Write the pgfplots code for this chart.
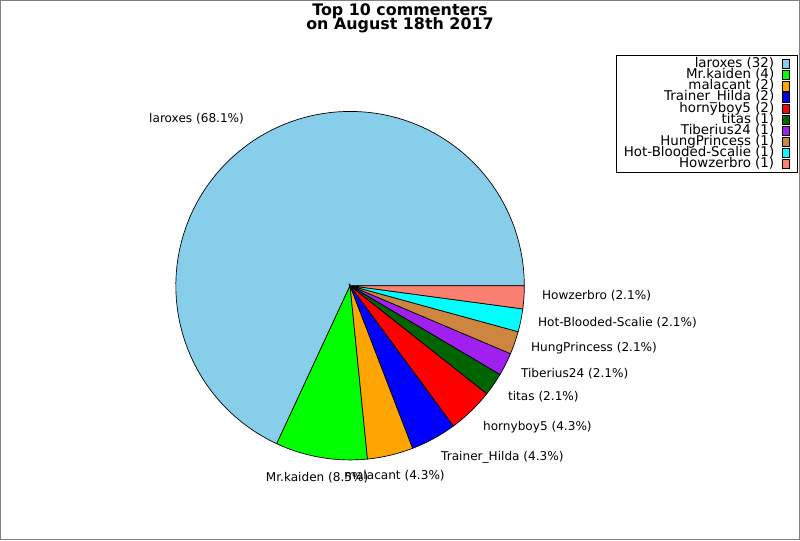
\documentclass[border=0pt]{standalone}
\usepackage{fontspec}
\setmainfont{DejaVu Sans}
\usepackage{pgfplots}
\pgfplotsset{compat=1.18}
\definecolor{cA}{RGB}{135,206,235}
\definecolor{cB}{RGB}{0,255,0}
\definecolor{cC}{RGB}{255,165,0}
\definecolor{cD}{RGB}{0,0,255}
\definecolor{cE}{RGB}{255,0,0}
\definecolor{cF}{RGB}{0,100,0}
\definecolor{cG}{RGB}{160,32,240}
\definecolor{cH}{RGB}{205,133,63}
\definecolor{cI}{RGB}{0,255,255}
\definecolor{cJ}{RGB}{250,128,114}
\def\total{47}
\def\cum{0}
\newcommand\slice[3]{%
  \pgfmathsetmacro\angA{\cum/\total*360}%
  \pgfmathsetmacro\newcum{\cum+#1}%
  \pgfmathsetmacro\angB{\newcum/\total*360}%
  \xdef\cum{\newcum}%
  \edef\tmp{\noexpand\addplot[draw=black, line width=0.5pt, fill=#2, domain=\angA:\angB, samples=90] ({350+174.5*cos(x)},{254.5+174.5*sin(x)}) -- (350,254.5) -- cycle;}\tmp
  \addlegendentry{#3 (#1)}%
}
\begin{document}
\begin{tikzpicture}
\begin{axis}[
  width=578.16pt, height=390.26pt, scale only axis,
  xmin=0, xmax=800, ymin=0, ymax=540,
  xtick=\empty, ytick=\empty,
  axis line style={draw=gray, line width=0.8pt},
  clip=false,
  legend cell align=right,
  legend plot pos=right,
  legend image code/.code={\draw[#1, line width=0.5pt] (0pt,-3.3pt) rectangle (5pt,3.3pt);},
  legend style={at={(0.9975,0.8994)}, anchor=north east, draw=black, line width=0.6pt,
    inner xsep=5.5pt, inner ysep=2.5pt, row sep=0pt, column sep=5.5pt,
    font=\fontsize{9.7}{9.7}\selectfont,
    nodes={inner sep=0pt, text height=6.6pt, text depth=1.4pt}},
]
\slice{32}{cA}{laroxes}
\slice{4}{cB}{Mr.kaiden}
\slice{2}{cC}{malacant}
\slice{2}{cD}{Trainer\_Hilda}
\slice{2}{cE}{hornyboy5}
\slice{1}{cF}{titas}
\slice{1}{cG}{Tiberius24}
\slice{1}{cH}{HungPrincess}
\slice{1}{cI}{Hot-Blooded-Scalie}
\slice{1}{cJ}{Howzerbro}

\begin{scope}[every node/.style={inner sep=0pt, font=\fontsize{8.75}{8.75}\selectfont}]
\node[anchor=east] at (244,422) {laroxes (68.1\%)};
\node at (317,62.5) {Mr.kaiden (8.5\%)};
\node at (394.5,64) {malacant (4.3\%)};
\node[anchor=west] at (441,83) {Trainer\_Hilda (4.3\%)};
\node[anchor=west] at (483,113) {hornyboy5 (4.3\%)};
\node[anchor=west] at (508,143) {titas (2.1\%)};
\node[anchor=west] at (521,166) {Tiberius24 (2.1\%)};
\node[anchor=west] at (531,192) {HungPrincess (2.1\%)};
\node[anchor=west] at (538,217) {Hot-Blooded-Scalie (2.1\%)};
\node[anchor=west] at (542,244) {Howzerbro (2.1\%)};
\end{scope}
\node[anchor=base, inner sep=0pt, font=\fontsize{11.5}{11.5}\selectfont\bfseries] at (400,525) {Top 10 commenters};
\node[anchor=base, inner sep=0pt, font=\fontsize{11.5}{11.5}\selectfont\bfseries] at (400,511.5) {on August 18th 2017};
\end{axis}
\end{tikzpicture}
\end{document}
